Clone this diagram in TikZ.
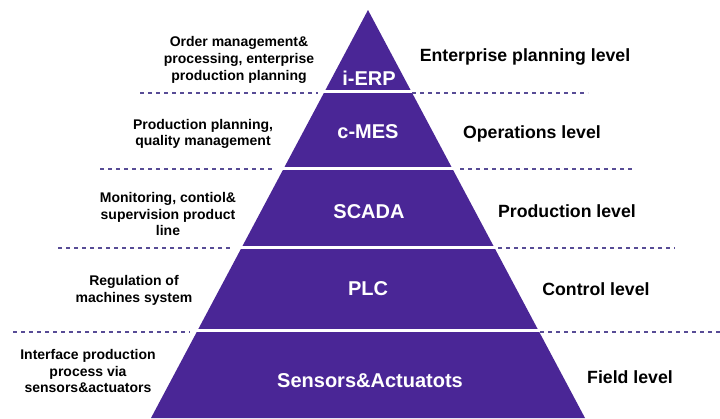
\documentclass[tikz,border=0pt]{standalone}
\usepackage{fontspec}
\setmainfont{Liberation Sans}
\definecolor{pyr}{RGB}{74,38,150}
\definecolor{dots}{RGB}{88,76,150}
\begin{document}
\begin{tikzpicture}[x=1pt, y=-1pt,
    level/.style={font=\bfseries\fontsize{17.7}{20}\selectfont, inner sep=0pt, anchor=base},
    tier/.style={font=\bfseries\fontsize{20}{22}\selectfont, text=white, inner sep=0pt, anchor=base},
    desc/.style={font=\bfseries\fontsize{14}{16.8}\selectfont, align=center, inner sep=0pt},
    sep/.style={white, line width=3pt},
    dotline/.style={dots, line width=1.8pt, dash pattern=on 4pt off 4pt}]
    \useasboundingbox (0, 0) rectangle (720, 418);
    \fill[white] (0, 0) rectangle (720, 418);
    % pyramid
    \fill[pyr] (368, 10) -- (585, 418) -- (151, 418) -- cycle;
    \draw[sep] (320, 91) -- (416, 91);
    \draw[sep] (279, 168) -- (457, 168);
    \draw[sep] (237, 247) -- (499, 247);
    \draw[sep] (193, 330) -- (543, 330);
    % dotted guides
    \draw[dotline] (140, 93) -- (318, 93);
    \draw[dotline] (412, 93) -- (588, 93);
    \draw[dotline] (100, 169) -- (275, 169);
    \draw[dotline] (460, 169) -- (632, 169);
    \draw[dotline] (58, 248) -- (233, 248);
    \draw[dotline] (498, 248) -- (675, 248);
    \draw[dotline] (13, 332) -- (190, 332);
    \draw[dotline] (540, 332) -- (720, 332);
    % tiers
    \node[tier] (erp) at (369, 85) {i-ERP};
    \node[tier] (mes) at (368, 138) {c-MES};
    \node[tier] (scada) at (369, 218) {SCADA};
    \node[tier] (plc) at (368, 295) {PLC};
    \node[tier] (sensors) at (370, 387) {Sensors\&Actuatots};
    % levels
    \node[level] (enterprise) at (525, 61) {Enterprise planning level};
    \node[level] (operations) at (532, 138) {Operations level};
    \node[level] (production) at (567, 217) {Production level};
    \node[level] (control) at (596, 295) {Control level};
    \node[level] (field) at (630, 383) {Field level};
    % descriptions
    \node[desc] (d-erp) at (239, 60) {Order management\&\\processing, enterprise\\production planning};
    \node[desc] (d-mes) at (203, 134) {Production planning,\\quality management};
    \node[desc] (d-scada) at (168, 214) {Monitoring, contiol\&\\supervision product\\line};
    \node[desc] (d-plc) at (134, 290) {Regulation of\\machines system};
    \node[desc] (d-sensors) at (88, 371) {Interface production\\process via\\sensors\&actuators};
\end{tikzpicture}
\end{document}
